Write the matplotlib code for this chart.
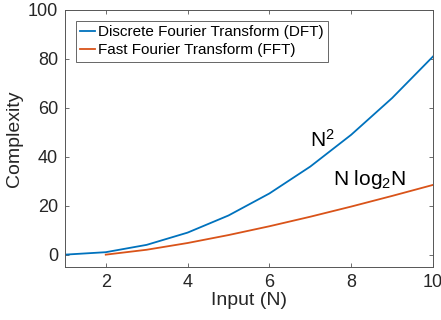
import numpy as np
import matplotlib
matplotlib.use("Agg")
import matplotlib.pyplot as plt

# values
dft_x = [1, 2, 3, 4, 5, 6, 7, 8, 9, 10]
dft_y = [0, 1, 4, 9, 16, 25, 36, 49, 64, 81]
fft_x = [2, 3, 4, 5, 6, 7, 8, 9, 10]
fft_y = [0, 2, 4.75, 8, 11.6, 15.5, 19.65, 24, 28.5]

x_ticks = [2, 4, 6, 8, 10]
y_ticks = [0, 20, 40, 60, 80, 100]

plt.rcParams['font.family'] = ['Liberation Sans', 'DejaVu Sans']
plt.rcParams['mathtext.fontset'] = 'custom'
plt.rcParams['mathtext.rm'] = 'Liberation Sans'
plt.rcParams['mathtext.it'] = 'Liberation Sans'

fig = plt.figure(figsize=(4.41, 3.2), dpi=100)
ax = fig.add_axes([0.147, 0.166, 0.835, 0.803])

ax.plot(dft_x, dft_y, color="#0072BD", lw=1.3, label="Discrete Fourier Transform (DFT)")
ax.plot(fft_x, fft_y, color="#D95319", lw=1.3, label="Fast Fourier Transform (FFT)")

ax.set_xlim(1, 10)
ax.set_ylim(-5, 100)
ax.set_xticks(x_ticks)
ax.set_yticks(y_ticks)
ax.tick_params(direction="in", top=True, right=True, length=3, width=0.6,
               color="#555555", labelsize=13, labelcolor="#262626", pad=5)
for s in ax.spines.values():
    s.set_color("#555555")
    s.set_linewidth(0.7)

ax.set_xlabel("Input (N)", fontsize=14, color="#262626", labelpad=1)
ax.set_ylabel("Complexity", fontsize=14, color="#262626", labelpad=3)

ax.text(7.0, 44, "N$^2$", fontsize=15, va="baseline")
ax.text(7.55, 28.5, "N log$_2$N", fontsize=15, va="baseline")

leg = ax.legend(loc="upper left", fontsize=11, handlelength=1.0, handletextpad=0.15,
                borderpad=0.3, labelspacing=0.25, fancybox=False, framealpha=1,
                edgecolor="#666666", borderaxespad=0.7)
leg.get_frame().set_linewidth(0.7)

fig.savefig("out.png", dpi=100)
